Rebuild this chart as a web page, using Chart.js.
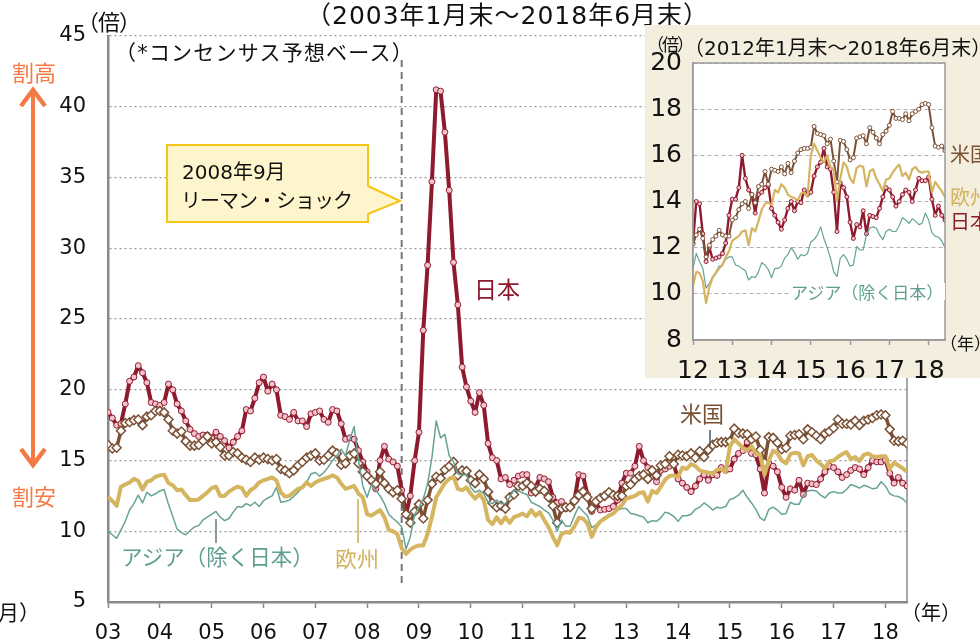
<!DOCTYPE html>
<html lang="ja">
<head>
<meta charset="utf-8">
<title>予想PER推移</title>
<script src="https://cdn.jsdelivr.net/npm/chart.js@4.4.1/dist/chart.umd.min.js"></script>
<style>
  html, body { margin: 0; padding: 0; background: #fff; }
  #wrap { position: relative; width: 980px; height: 639px; overflow: hidden; }
  #main { position: absolute; left: 0; top: 0; }
  #deco { position: absolute; left: 0; top: 0; }
  #insetBox { position: absolute; left: 645px; top: 25px; width: 335px; height: 353px; background: #f4eedf; }
  #inset { position: absolute; left: 0; top: 0; }
  .t { position: absolute; white-space: nowrap; line-height: 1; font-family: "Noto Sans CJK JP", "Noto Sans", sans-serif; color: #111; }
  .d { font-family: "DejaVu Sans", "Noto Sans CJK JP", sans-serif; }
</style>
</head>
<body>
<div id="wrap">
  <canvas id="main" width="980" height="639"></canvas>

  <svg id="deco" width="980" height="639">
    <!-- callout -->
    <path d="M167,145 H368 V186 L400,201 L368,214 V222 H167 Z" fill="#fff5cc" stroke="#f5c518" stroke-width="2"/>
    <!-- 割高 / 割安 arrow -->
    <line x1="33" y1="92" x2="33" y2="463" stroke="#f47a45" stroke-width="4"/>
    <polyline points="21,106 33,90 45,106" fill="none" stroke="#f47a45" stroke-width="4.5"/>
    <polyline points="21,449 33,465 45,449" fill="none" stroke="#f47a45" stroke-width="4.5"/>
    <!-- leader lines -->
    <line x1="710" y1="430" x2="710" y2="446" stroke="#4a5868" stroke-width="1.5"/>
    <line x1="216" y1="519" x2="216" y2="543" stroke="#8a9aa5" stroke-width="2"/>
    <line x1="358" y1="499" x2="358" y2="543" stroke="#d8c07a" stroke-width="2"/>
  </svg>

  <div class="t d" style="left:306px;top:3px;font-size:25px;letter-spacing:1px;">（2003年1月末～2018年6月末）</div>
  <div class="t" style="left:77px;top:9px;font-size:22px;letter-spacing:-1px;">（倍）</div>
  <div class="t d" style="left:115px;top:43px;font-size:21px;letter-spacing:1.2px;">（*コンセンサス予想ベース）</div>
  <div class="t" style="left:12px;top:60px;font-size:22px;color:#f47a45;">割高</div>
  <div class="t" style="left:12px;top:484px;font-size:22px;color:#f47a45;">割安</div>
  <div class="t d" style="left:182px;top:162px;font-size:20px;">2008年9月</div>
  <div class="t" style="left:181px;top:190px;font-size:20px;letter-spacing:-1px;">リーマン・ショック</div>
  <div class="t" style="left:474px;top:277px;font-size:23px;color:#8e1a2d;">日本</div>
  <div class="t" style="left:680px;top:401px;font-size:22px;color:#7a5035;">米国</div>
  <div class="t" style="left:121px;top:545px;font-size:21.5px;color:#5f9f8f;">アジア（除く日本）</div>
  <div class="t" style="left:335px;top:546px;font-size:22px;color:#d2b25a;">欧州</div>
  <div class="t" style="left:901px;top:602px;font-size:20px;">（年）</div>
  <div class="t" style="left:-2px;top:601px;font-size:21px;">月）</div>

  <div id="insetBox"><canvas id="inset" width="335" height="353"></canvas></div>

  <div class="t" style="left:647px;top:35px;font-size:17px;letter-spacing:-2px;">（倍）</div>
  <div class="t d" style="left:684px;top:38px;font-size:20px;">（2012年1月末～2018年6月末）</div>
  <div class="t" style="left:950px;top:144px;font-size:20px;color:#7a5035;">米国</div>
  <div class="t" style="left:950px;top:187px;font-size:20px;color:#d2b25a;">欧州</div>
  <div class="t" style="left:950px;top:211px;font-size:20px;color:#8e1a2d;">日本</div>
  <div class="t" style="left:789px;top:283px;font-size:17px;color:#5f9f8f;background:#fff;padding:0 2px;">アジア（除く日本）</div>
  <div class="t" style="left:940px;top:334px;font-size:17px;">（年）</div>
</div>

<script>
// 月末ごとの予想PER（2003年1月末～2018年6月末）
const yearLabels = ['03', '04', '05', '06', '07', '08', '09', '10', '11', '12', '13', '14', '15', '16', '17', '18'];
const insetYearLabels = ['12', '13', '14', '15', '16', '17', '18'];
const mainYTicks = [5, 10, 15, 20, 25, 30, 35, 40, 45];
const insetYTicks = [8, 10, 12, 14, 16, 18, 20];
const lehmanMonth = 68;   // 2008年9月末
const insetStart = 108;   // 2012年1月末

const japan = [
  18.4, 18.0, 17.5, 17.6, 19.0, 20.6, 20.9, 21.7, 21.2, 20.5, 19.1, 19.0,
  18.9, 19.1, 20.4, 20.0, 19.0, 18.5, 17.8, 17.2, 16.9, 16.7, 16.8, 16.8,
  16.6, 17.0, 16.7, 16.4, 15.9, 16.3, 16.7, 17.1, 18.6, 18.5, 19.4, 20.5,
  20.9, 19.9, 20.4, 20.0, 18.2, 18.1, 17.9, 18.4, 17.8, 17.8, 17.4, 18.3,
  18.4, 18.5, 17.9, 17.7, 18.6, 18.5, 17.6, 16.5, 16.6, 16.5, 15.7, 14.9,
  14.2, 13.5, 13.0, 15.0, 16.0, 15.1, 14.9, 14.6, 12.9, 11.2, 12.5, 15.0,
  17.0, 24.2, 28.8, 34.7, 41.2, 41.1, 38.2, 34.1, 29.0, 26.0, 21.6, 20.2,
  19.2, 18.4, 19.8, 18.9, 16.2, 15.2, 15.0, 13.7, 13.8, 13.3, 13.6, 13.9,
  14.0, 14.0, 12.7, 13.1, 13.8, 13.7, 13.5, 12.4, 12.0, 12.1, 11.6, 11.7,
  12.2, 14.0, 13.9, 12.6, 11.4, 12.0, 11.5, 11.55, 11.6, 11.75, 12.2, 13.4,
  14.1, 14.1, 14.6, 16.0, 15.0, 14.5, 14.3, 13.5, 14.3, 14.4, 14.6, 14.7,
  13.7, 13.4, 13.1, 12.8, 13.2, 13.7, 14.0, 13.6, 14.0, 13.95, 14.5, 14.3,
  14.4, 15.1, 15.5, 15.7, 16.3, 15.5, 15.4, 14.4, 12.7, 14.8, 14.6, 14.2,
  13.1, 12.4, 13.0, 12.9, 13.6, 12.6, 13.4, 13.35, 13.3, 13.7, 14.2, 14.6,
  14.5, 14.2, 13.8, 14.0, 14.3, 14.5, 14.4, 14.0, 14.5, 15.0, 14.9, 14.9,
  15.05, 14.1, 13.4, 13.8, 13.4, 13.2
];

const usa = [
  16.1, 15.85, 15.9, 17.1, 17.65, 17.7, 17.85, 17.9, 17.5, 18.1, 18.2, 18.5,
  18.5, 18.4, 17.9, 17.1, 16.9, 17.05, 16.35, 16.05, 16.05, 16.1, 16.4, 16.7,
  16.2, 16.3, 15.95, 15.35, 15.35, 15.6, 15.5, 15.2, 15.05, 14.9, 15.2, 15.05,
  15.2, 15.1, 15.0, 15.1, 14.4, 14.3, 14.1, 14.3, 14.65, 14.9, 15.2, 15.35,
  15.5, 15.0, 15.05, 15.35, 15.7, 15.5, 14.7, 14.8, 15.35, 15.5, 14.8, 14.2,
  13.9, 13.6, 13.35, 14.2, 13.4, 13.0, 12.75, 12.9, 12.3, 11.2, 10.6, 11.4,
  11.9, 10.9, 12.2, 13.35, 13.85, 13.75, 14.35, 14.6, 14.9, 13.95, 14.3, 14.25,
  13.6, 13.4, 14.0, 13.7, 12.8, 12.0, 11.7, 11.8, 11.6, 12.4, 12.6, 13.2,
  13.2, 13.4, 13.2, 12.8, 13.0, 12.85, 12.4, 11.8, 10.6, 11.6, 11.7, 11.7,
  12.15, 12.55, 12.8, 12.4, 11.6, 12.1, 12.35, 12.5, 12.75, 12.55, 12.5, 12.5,
  13.2, 13.3, 13.65, 13.9, 14.0, 13.7, 14.3, 13.95, 14.65, 14.75, 15.3, 14.75,
  15.4, 15.35, 15.3, 15.5, 15.2, 15.65, 15.25, 15.75, 16.1, 16.25, 16.3, 16.3,
  16.35, 17.25, 16.95, 16.9, 16.85, 16.5, 16.7, 15.75, 14.85, 16.65, 16.6, 16.25,
  15.8, 15.9, 16.75, 16.8, 16.85, 16.5, 17.2, 17.0, 16.75, 16.5, 16.9, 17.05,
  17.3, 17.9, 17.6, 17.6, 17.55, 17.8, 17.5, 17.8, 17.9, 18.0, 18.2, 18.25,
  18.2, 17.2, 16.4, 16.35, 16.4, 16.2
];

const europe = [
  12.45, 12.15, 11.8, 13.15, 13.3, 13.45, 13.7, 13.55, 12.95, 13.5, 13.6, 13.85,
  13.95, 14.0, 13.4, 13.25, 12.9, 12.95, 12.55, 12.2, 12.2, 12.25, 12.5, 12.75,
  13.05, 13.15, 12.5, 12.5, 12.8, 13.0, 13.15, 13.05, 12.5, 12.9, 13.1, 13.45,
  13.6, 13.7, 13.8, 13.6, 12.75, 12.45, 12.5, 12.75, 13.0, 13.1, 13.45, 13.2,
  13.45, 13.6, 13.7, 13.8, 13.95, 13.8, 13.35, 13.0, 13.1, 13.2, 12.65, 12.4,
  11.2, 11.1, 11.3, 11.5, 11.0, 10.1, 10.0, 9.8, 8.8, 8.4, 8.7, 8.9,
  9.0, 9.0, 9.8, 11.0, 12.4, 12.9, 13.4, 13.7, 13.85, 13.0, 12.9, 13.1,
  12.65, 12.3, 12.65, 12.2, 10.8, 10.5, 11.0, 10.55, 11.0, 10.6, 11.0, 11.1,
  11.25, 11.05, 11.5, 11.1, 11.35, 10.8, 10.3, 9.6, 9.0, 9.8, 9.95, 9.9,
  10.35, 10.95, 10.9, 10.55, 9.6, 10.3, 10.7, 10.9, 11.1, 11.25, 11.6, 11.85,
  12.3, 12.4, 12.5, 12.7, 12.75, 12.1, 12.85, 12.7, 13.15, 13.65, 13.9, 13.95,
  13.85, 14.5, 14.4, 14.75, 14.6, 14.3, 14.2, 14.15, 14.05, 14.35, 14.4, 14.2,
  16.0, 16.5, 16.2, 15.9, 15.7, 16.0, 15.5, 15.4, 14.0, 15.0, 15.7, 15.5,
  15.0, 14.8, 15.45, 15.55, 15.5, 14.65, 15.3, 15.4, 15.0, 14.75, 14.45, 14.95,
  15.0, 15.25, 15.45, 15.6, 15.1, 15.25, 14.95, 15.4, 15.5, 15.3, 15.25, 15.3,
  15.3, 14.4, 14.85, 14.65, 14.45, 14.2
];

const asia = [
  10.0, 9.75, 9.5, 10.1, 10.7, 11.5, 11.95, 12.55, 12.0, 12.75, 12.5, 12.65,
  12.85, 12.95, 11.9, 11.05, 10.15, 9.9, 9.75, 10.05, 10.3, 10.4, 10.8, 11.0,
  11.2, 11.4, 11.0, 10.75, 10.9, 11.35, 11.75, 11.7, 11.95, 11.8, 12.05, 11.75,
  12.15, 12.35, 12.5, 13.1, 12.05, 12.1, 12.2, 12.45, 12.75, 13.1, 13.45, 14.05,
  14.15, 13.9, 14.15, 14.55, 15.0, 15.35, 15.8, 15.35, 16.5, 17.4, 15.0, 13.2,
  12.4, 13.3, 12.9, 12.5, 11.95, 11.2, 10.9, 10.65, 10.3, 8.75, 9.6, 11.2,
  11.7, 12.3, 13.35, 15.2, 17.8, 16.6, 16.85, 15.35, 14.9, 14.05, 13.95, 14.05,
  13.1, 12.75, 12.9, 12.65, 12.05, 11.95, 12.2, 11.95, 11.95, 12.4, 12.9, 12.85,
  12.7, 12.6, 12.05, 11.9, 11.75, 11.5, 11.3, 10.8, 10.0, 10.8, 10.35, 10.35,
  11.1, 11.75, 11.4, 11.1, 10.25, 10.45, 10.75, 10.95, 11.2, 11.25, 11.5, 11.6,
  11.6, 11.25, 11.2, 11.1, 11.0, 10.6, 10.75, 10.7, 10.95, 11.35, 11.25, 11.05,
  10.7, 11.1, 11.1, 11.2, 11.55, 11.7, 12.0, 11.8, 11.5, 11.7, 11.65, 11.75,
  12.25, 12.35, 12.55, 12.9, 12.4, 12.0, 11.55, 10.95, 10.75, 11.55, 11.7, 11.5,
  11.2, 11.25, 12.05, 11.9, 11.9, 12.55, 12.85, 12.9, 12.85, 12.55, 12.35, 12.7,
  12.8, 12.7, 12.7, 12.95, 13.3, 13.2, 13.05, 13.25, 13.15, 13.0, 13.05, 13.5,
  13.2, 12.65, 12.5, 12.45, 12.3, 12.0
];

const colors = {
  japan: '#8e1a2d',
  japanPoint: '#f5c2cc',
  usa: '#7a5035',
  europe: '#d5b560',
  asia: '#66a395'
};

const tickFont = { family: 'DejaVu Sans', size: 21 };
const insetTickFont = { family: 'DejaVu Sans', size: 25 };

function pts(arr, start) {
  return arr.slice(start).map((v, i) => ({ x: i, y: v }));
}

function makeDatasets(start, big) {
  return [
    { label: '欧州', data: pts(europe, start), borderColor: colors.europe, borderWidth: big ? 4 : 2.2, pointRadius: 0 },
    { label: 'アジア（除く日本）', data: pts(asia, start), borderColor: colors.asia, borderWidth: big ? 1.5 : 1.2, pointRadius: 0 },
    {
      label: '米国', data: pts(usa, start), borderColor: colors.usa, borderWidth: big ? 3.5 : 2,
      pointStyle: big ? 'rectRot' : 'circle', pointRadius: big ? 4.5 : 2,
      pointBackgroundColor: '#fff', pointBorderColor: colors.usa, pointBorderWidth: big ? 1.5 : 1
    },
    {
      label: '日本', data: pts(japan, start), borderColor: colors.japan, borderWidth: big ? 4 : 2.4,
      pointStyle: 'circle', pointRadius: big ? 3 : 2,
      pointBackgroundColor: colors.japanPoint, pointBorderColor: colors.japan, pointBorderWidth: 1
    }
  ];
}

// 本図：リーマン・ショックの破線と右枠
const mainExtras = {
  id: 'mainExtras',
  beforeDatasetsDraw(chart) {
    const { ctx, chartArea, scales } = chart;
    const x = scales.x.getPixelForValue(lehmanMonth);
    ctx.save();
    ctx.strokeStyle = '#777';
    ctx.lineWidth = 2;
    ctx.setLineDash([7, 5]);
    ctx.beginPath();
    ctx.moveTo(x, 60);
    ctx.lineTo(x, 586);
    ctx.stroke();
    ctx.setLineDash([]);
    ctx.strokeStyle = '#8a8a8a';
    ctx.lineWidth = 1.5;
    ctx.beginPath();
    ctx.moveTo(chartArea.right, chartArea.top);
    ctx.lineTo(chartArea.right, chartArea.bottom);
    ctx.stroke();
    ctx.restore();
  }
};

// 挿入図：白地と枠
const insetFrame = {
  id: 'insetFrame',
  beforeDraw(chart) {
    const { ctx, chartArea: a } = chart;
    ctx.save();
    ctx.fillStyle = '#fff';
    ctx.fillRect(a.left, a.top, a.right - a.left, a.bottom - a.top);
    ctx.restore();
  },
  afterDraw(chart) {
    const { ctx, chartArea: a } = chart;
    ctx.save();
    ctx.strokeStyle = '#9a9a9a';
    ctx.lineWidth = 1.5;
    ctx.strokeRect(a.left, a.top, a.right - a.left, a.bottom - a.top);
    ctx.restore();
  }
};

new Chart(document.getElementById('main'), {
  type: 'line',
  data: { datasets: makeDatasets(0, true) },
  options: {
    responsive: false,
    animation: false,
    layout: { padding: { left: 0, top: 36, right: 73, bottom: 0 } },
    plugins: { legend: { display: false }, tooltip: { enabled: false } },
    elements: { line: { tension: 0, borderJoinStyle: 'round' } },
    scales: {
      x: {
        type: 'linear',
        min: 0,
        max: japan.length - 1,
        afterBuildTicks: s => { s.ticks = yearLabels.map((_, i) => ({ value: i * 12 })); },
        afterFit: s => { s.height = 37; },
        ticks: { autoSkip: false, maxRotation: 0, padding: 13, color: '#111', font: tickFont, callback: v => yearLabels[v / 12] },
        grid: { drawOnChartArea: false, drawTicks: true, tickLength: 6, tickColor: '#888', tickWidth: 1.5 },
        border: { color: '#8a8a8a', width: 2.5 }
      },
      y: {
        min: mainYTicks[0],
        max: mainYTicks[mainYTicks.length - 1],
        afterFit: s => { s.width = 108; },
        ticks: { stepSize: mainYTicks[1] - mainYTicks[0], padding: 22, color: '#111', font: tickFont },
        grid: { color: '#9a9a9a', lineWidth: 1.2, drawTicks: false },
        border: { color: '#8a8a8a', width: 2.5, dash: [2, 3] }
      }
    }
  },
  plugins: [mainExtras]
});

new Chart(document.getElementById('inset'), {
  type: 'line',
  data: { datasets: makeDatasets(insetStart, false) },
  options: {
    responsive: false,
    animation: false,
    layout: { padding: { left: 0, top: 38, right: 35, bottom: 0 } },
    plugins: { legend: { display: false }, tooltip: { enabled: false } },
    elements: { line: { tension: 0, borderJoinStyle: 'round' } },
    scales: {
      x: {
        type: 'linear',
        min: 0,
        max: japan.length - 1 - insetStart,
        afterBuildTicks: s => { s.ticks = insetYearLabels.map((_, i) => ({ value: i * 12 })); },
        afterFit: s => { s.height = 38; },
        ticks: { autoSkip: false, maxRotation: 0, padding: 11, color: '#111', font: insetTickFont, callback: v => insetYearLabels[v / 12] },
        grid: { drawOnChartArea: false, drawTicks: true, tickLength: 5, tickColor: '#999', tickWidth: 1.5 },
        border: { color: '#9a9a9a', width: 1.5 }
      },
      y: {
        min: insetYTicks[0],
        max: insetYTicks[insetYTicks.length - 1],
        afterFit: s => { s.width = 48; },
        ticks: { stepSize: insetYTicks[1] - insetYTicks[0], padding: 11, color: '#111', font: insetTickFont },
        grid: { color: '#b0b0b0', lineWidth: 1, drawTicks: false },
        border: { color: '#9a9a9a', width: 1.5, dash: [4, 3] }
      }
    }
  },
  plugins: [insetFrame]
});
</script>
</body>
</html>
